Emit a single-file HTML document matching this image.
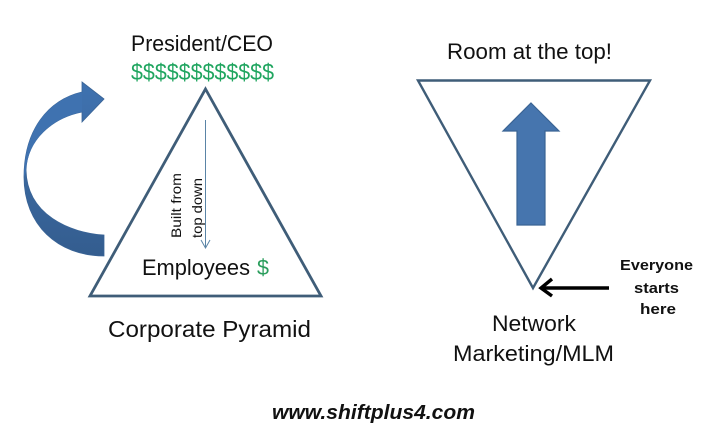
<!DOCTYPE html>
<html><head><meta charset="utf-8"><style>
html,body{margin:0;padding:0;background:#fff;width:718px;height:430px;overflow:hidden}
svg{display:block}
text{font-family:"Liberation Sans",sans-serif;fill:#111}
</style></head><body>
<svg width="718" height="430" viewBox="0 0 718 430" xmlns="http://www.w3.org/2000/svg">
<defs>
<linearGradient id="g" x1="0" y1="0" x2="0" y2="1">
<stop offset="0" stop-color="#3f72b0"/><stop offset="0.5" stop-color="#3a689f"/><stop offset="1" stop-color="#345d8f"/>
</linearGradient>
</defs>
<polygon points="205.5,89 321,296 90,296" fill="#fff" stroke="#3f5d78" stroke-width="2.8"/>
<polygon points="418,80.5 650,80.5 533,288" fill="#fff" stroke="#3f5d78" stroke-width="2.4"/>

<path d="M104,99 L82,82 L82,92 C48,100 24,130 24,177 C24,225 58,256 104,256 L104,235 C70,233 27,215 26,170 C27,140 52,118 82,112 L82,122 Z" fill="url(#g)" stroke="#3a6496" stroke-width="0.8"/>
<path d="M26,172 C27,140 52,118 82,112 L82,92 C48,100 24,130 24,177 Z" fill="#3f72b0"/>

<polygon points="531,103 559,131 545,131 545,225 517,225 517,131 503,131" fill="#4675ae" stroke="#3a6494" stroke-width="1.2"/>

<line x1="205.5" y1="120" x2="205.5" y2="247" stroke="#5a84a6" stroke-width="1"/>
<polyline points="201,240 205.5,248 210,240" fill="none" stroke="#5a84a6" stroke-width="1"/>

<line x1="609" y1="288" x2="541" y2="288" stroke="#000" stroke-width="3.4"/>
<polyline points="552,279 541,288 552,296" fill="none" stroke="#000" stroke-width="3.4"/>

<text x="131" y="51" font-size="22" textLength="142" lengthAdjust="spacingAndGlyphs">President/CEO</text>
<text x="131" y="80" font-size="23" textLength="143" lengthAdjust="spacingAndGlyphs" style="fill:#1fa55f">$$$$$$$$$$$$</text>
<text x="142" y="275" font-size="22" textLength="108" lengthAdjust="spacingAndGlyphs">Employees</text>
<text x="257" y="275" font-size="22" style="fill:#2a9d5c" textLength="12" lengthAdjust="spacingAndGlyphs">$</text>
<text x="108" y="337" font-size="23" textLength="203" lengthAdjust="spacingAndGlyphs">Corporate Pyramid</text>
<text transform="translate(181,238) rotate(-90)" font-size="14" textLength="65" lengthAdjust="spacingAndGlyphs">Built from</text>
<text transform="translate(202,238) rotate(-90)" font-size="14" textLength="60" lengthAdjust="spacingAndGlyphs">top down</text>
<text x="447" y="59" font-size="22" textLength="165" lengthAdjust="spacingAndGlyphs">Room at the top!</text>
<text x="492" y="331" font-size="22" textLength="84" lengthAdjust="spacingAndGlyphs">Network</text>
<text x="453" y="361" font-size="22" textLength="161" lengthAdjust="spacingAndGlyphs">Marketing/MLM</text>
<text x="620" y="270" font-size="15" font-weight="bold" textLength="73" lengthAdjust="spacingAndGlyphs">Everyone</text>
<text x="634" y="293" font-size="15" font-weight="bold" textLength="45" lengthAdjust="spacingAndGlyphs">starts</text>
<text x="640" y="314" font-size="15" font-weight="bold" textLength="36" lengthAdjust="spacingAndGlyphs">here</text>
<text x="272" y="419" font-size="20" font-weight="bold" font-style="italic" textLength="203" lengthAdjust="spacingAndGlyphs">www.shiftplus4.com</text>
</svg>
</body></html>
